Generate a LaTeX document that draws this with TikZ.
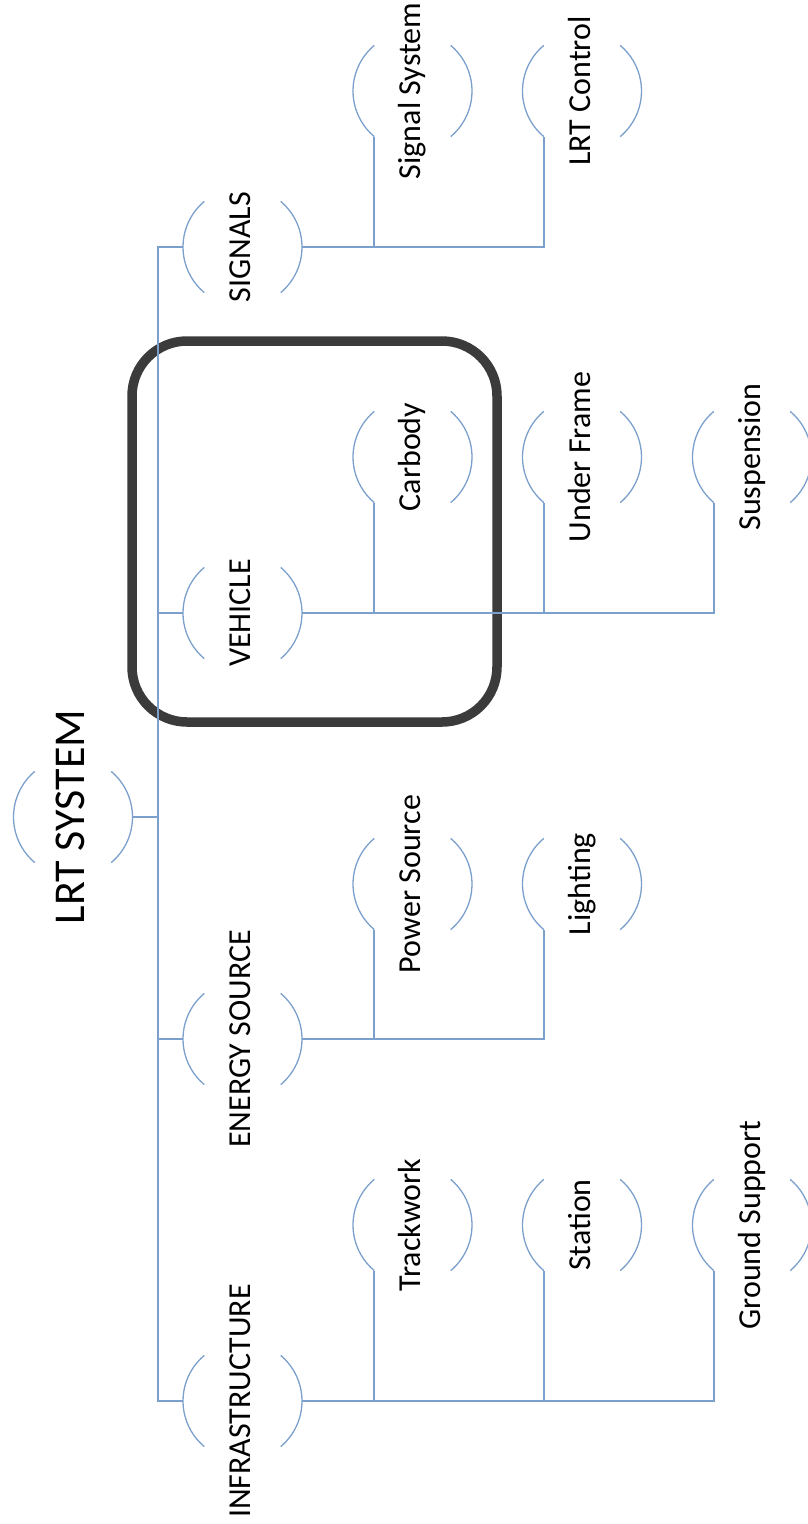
\documentclass[tikz,border=0pt]{standalone}
\usepackage{fontspec}
\setmainfont{Carlito}
\definecolor{linec}{RGB}{124,160,204}
\definecolor{framec}{RGB}{59,59,59}
\tikzset{
  x=1pt, y=1pt,
  bubble/.style={circle, minimum size=119pt, inner sep=0pt, outer sep=0pt, draw=none},
  arcline/.style={draw=linec, line width=1.3pt},
  conn/.style={draw=linec, line width=1.6pt},
  lbl/.style={rotate=90, anchor=mid, inner sep=0pt, font=\fontsize{32}{38}\selectfont, text=black},
  rootlbl/.style={rotate=90, anchor=mid, inner sep=0pt, font=\fontsize{44}{52}\selectfont, text=black},
  framebox/.style={draw=framec, line width=9.5pt, rounded corners=55pt}
}
\newcommand\bub[6]{%
  \node[bubble] (#1) at (#2,#3) {};
  \draw[arcline] (#1.130) arc[start angle=130,end angle=230,radius=59.5pt];
  \draw[arcline] (#1.-50) arc[start angle=-50,end angle=50,radius=59.5pt];
  \node[#5] (#1-t) at ([xshift=#6]#1.center) {#4};
}
\begin{document}
\begin{tikzpicture}
\useasboundingbox (0,0) rectangle (807,-1524);
% highlight frame
\draw[framebox] (132,-341) rectangle (497,-722);
% bubbles
\bub{root}{73}{-817}{LRT SYSTEM}{rootlbl}{9pt}
\bub{signals}{242.5}{-247}{SIGNALS}{lbl}{6pt}
\bub{vehicle}{242.5}{-613}{VEHICLE}{lbl}{6pt}
\bub{energy}{242.5}{-1039}{ENERGY SOURCE}{lbl}{6pt}
\bub{infra}{242.5}{-1401}{INFRASTRUCTURE}{lbl}{6pt}
\bub{sigsys}{412.5}{-91}{Signal System}{lbl}{6pt}
\bub{lrtctl}{582}{-91}{LRT Control}{lbl}{6pt}
\bub{carbody}{412.5}{-457}{Carbody}{lbl}{6pt}
\bub{underframe}{582}{-457}{Under Frame}{lbl}{6pt}
\bub{suspension}{752}{-457}{Suspension}{lbl}{6pt}
\bub{power}{412.5}{-884}{Power Source}{lbl}{6pt}
\bub{lighting}{582}{-884}{Lighting}{lbl}{6pt}
\bub{trackwork}{412.5}{-1225}{Trackwork}{lbl}{6pt}
\bub{station}{582}{-1225}{Station}{lbl}{6pt}
\bub{ground}{752}{-1225}{Ground Support}{lbl}{6pt}
% trunk
\coordinate (trunk) at (158,-817);
\draw[conn] (root.east) -- (trunk);
\draw[conn] (trunk) |- (signals.west);
\draw[conn] (trunk) |- (vehicle.west);
\draw[conn] (trunk) |- (energy.west);
\draw[conn] (trunk) |- (infra.west);
% children
\draw[conn] (signals.east) -| (sigsys.230);
\draw[conn] (signals.east) -| (lrtctl.230);
\draw[conn] (vehicle.east) -| (carbody.230);
\draw[conn] (vehicle.east) -| (underframe.230);
\draw[conn] (vehicle.east) -| (suspension.230);
\draw[conn] (energy.east) -| (power.230);
\draw[conn] (energy.east) -| (lighting.230);
\draw[conn] (infra.east) -| (trackwork.230);
\draw[conn] (infra.east) -| (station.230);
\draw[conn] (infra.east) -| (ground.230);
\end{tikzpicture}
\end{document}
